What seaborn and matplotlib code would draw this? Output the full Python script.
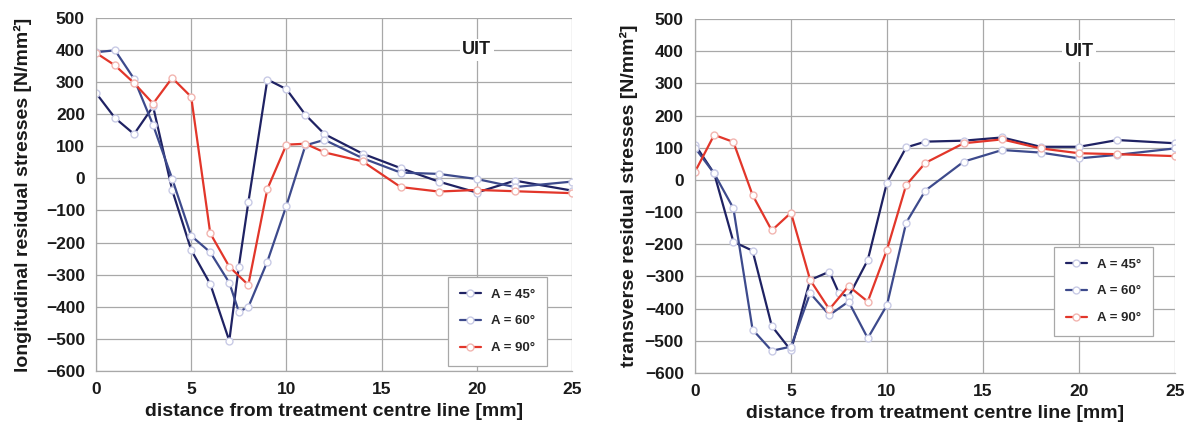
import numpy as np
import pandas as pd
import matplotlib
matplotlib.use("Agg")
import matplotlib.pyplot as plt
import seaborn as sns

# distance from treatment centre line [mm]
x_45 = [0, 1, 2, 3, 4, 5, 6, 7, 7.5, 8, 9, 10, 11, 12, 14, 16, 18, 20, 22, 25]
x_std = [0, 1, 2, 3, 4, 5, 6, 7, 8, 9, 10, 11, 12, 14, 16, 18, 20, 22, 25]

# longitudinal residual stresses [N/mm²]
long_45 = [266, 188, 138, 224, -36, -223, -329, -506, -275, -75, 308, 278, 198, 138, 77, 32, -10, -44, -7, -38]
long_60 = [393, 399, 310, 166, -1, -179, -230, -325, -415, -401, -259, -85, 103, 120, 63, 18, 14, -2, -27, -10]
long_90 = [391, 352, 297, 233, 313, 254, -171, -275, -332, -33, 105, 108, 81, 53, -27, -41, -36, -40, -46]

# transverse residual stresses [N/mm²]
trans_45 = [110, 20, -192, -220, -454, -530, -311, -285, -352, -363, -249, -8, 101, 119, 122, 132, 103, 103, 124, 114]
trans_60 = [100, 20, -88, -465, -531, -518, -352, -420, -378, -492, -389, -133, -33, 57, 93, 85, 67, 78, 98]
trans_90 = [25, 140, 118, -47, -157, -102, -311, -402, -330, -378, -217, -16, 53, 114, 126, 98, 83, 80, 74]

labels = ["A = 45°", "A = 60°", "A = 90°"]
colors = ["#1f2263", "#3d4a8c", "#e2362a"]
edges = ["#c9cbe6", "#c9cbe6", "#f2b5b0"]

sns.set_theme(style="white")
plt.rcParams["font.family"] = ["Liberation Sans", "DejaVu Sans"]
plt.rcParams["font.weight"] = "bold"

fig = plt.figure(figsize=(11.88, 4.28), dpi=100)
ax1 = fig.add_axes([0.0808, 0.1332, 0.4007, 0.825])
ax2 = fig.add_axes([0.585, 0.1285, 0.404, 0.827])

panels = [
    (ax1, [(x_45, long_45), (x_45, long_60), (x_std, long_90)],
     "longitudinal residual stresses [N/mm²]", (0.962, 0.286), 10),
    (ax2, [(x_45, trans_45), (x_std, trans_60), (x_std, trans_90)],
     "transverse residual stresses [N/mm²]", (0.969, 0.376), 5),
]

for ax, series, ylabel, leg_pos, ypad in panels:
    for (xs, ys), lab, col, ec in zip(series, labels, colors, edges):
        df = pd.DataFrame({"x": xs, "y": ys})
        sns.lineplot(data=df, x="x", y="y", ax=ax, color=col, linewidth=1.6,
                     marker="o", markersize=5, markerfacecolor="white",
                     markeredgecolor=ec, markeredgewidth=1.0, label=lab)
    ax.set_xlim(0, 25)
    ax.set_ylim(-600, 500)
    ax.set_xticks(range(0, 26, 5))
    ax.set_yticks(range(-600, 501, 100))
    ax.grid(True, color="#a8a8a8", linewidth=0.9)
    ax.set_axisbelow(True)
    for s in ["top", "right"]:
        ax.spines[s].set_visible(False)
    for s in ["left", "bottom"]:
        ax.spines[s].set_color("#a8a8a8")
        ax.spines[s].set_linewidth(0.9)
    ax.tick_params(axis="both", which="both", direction="out", length=4,
                   color="#a8a8a8", labelsize=12.5, pad=4)
    for t in ax.get_xticklabels() + ax.get_yticklabels():
        t.set_fontweight("bold")
        t.set_color("#1a1a1a")
    ax.set_xlabel("distance from treatment centre line [mm]", fontsize=14,
                  fontweight="bold", color="#1a1a1a", labelpad=4)
    ax.set_ylabel(ylabel, fontsize=14, fontweight="bold", color="#1a1a1a", labelpad=ypad)
    ax.text(20, 400, "UIT", ha="center", va="center", fontsize=13, fontweight="bold",
            color="#1a1a1a", bbox=dict(facecolor="white", edgecolor="none", pad=2))
    leg = ax.legend(loc="upper right", bbox_to_anchor=leg_pos, frameon=True, fancybox=False,
                    edgecolor="#a8a8a8", framealpha=1, handlelength=1.6, labelspacing=1.1,
                    borderpad=0.9, prop={"weight": "bold", "size": 9.5})
    leg.get_frame().set_linewidth(0.9)

fig.savefig("out.png", dpi=100)
